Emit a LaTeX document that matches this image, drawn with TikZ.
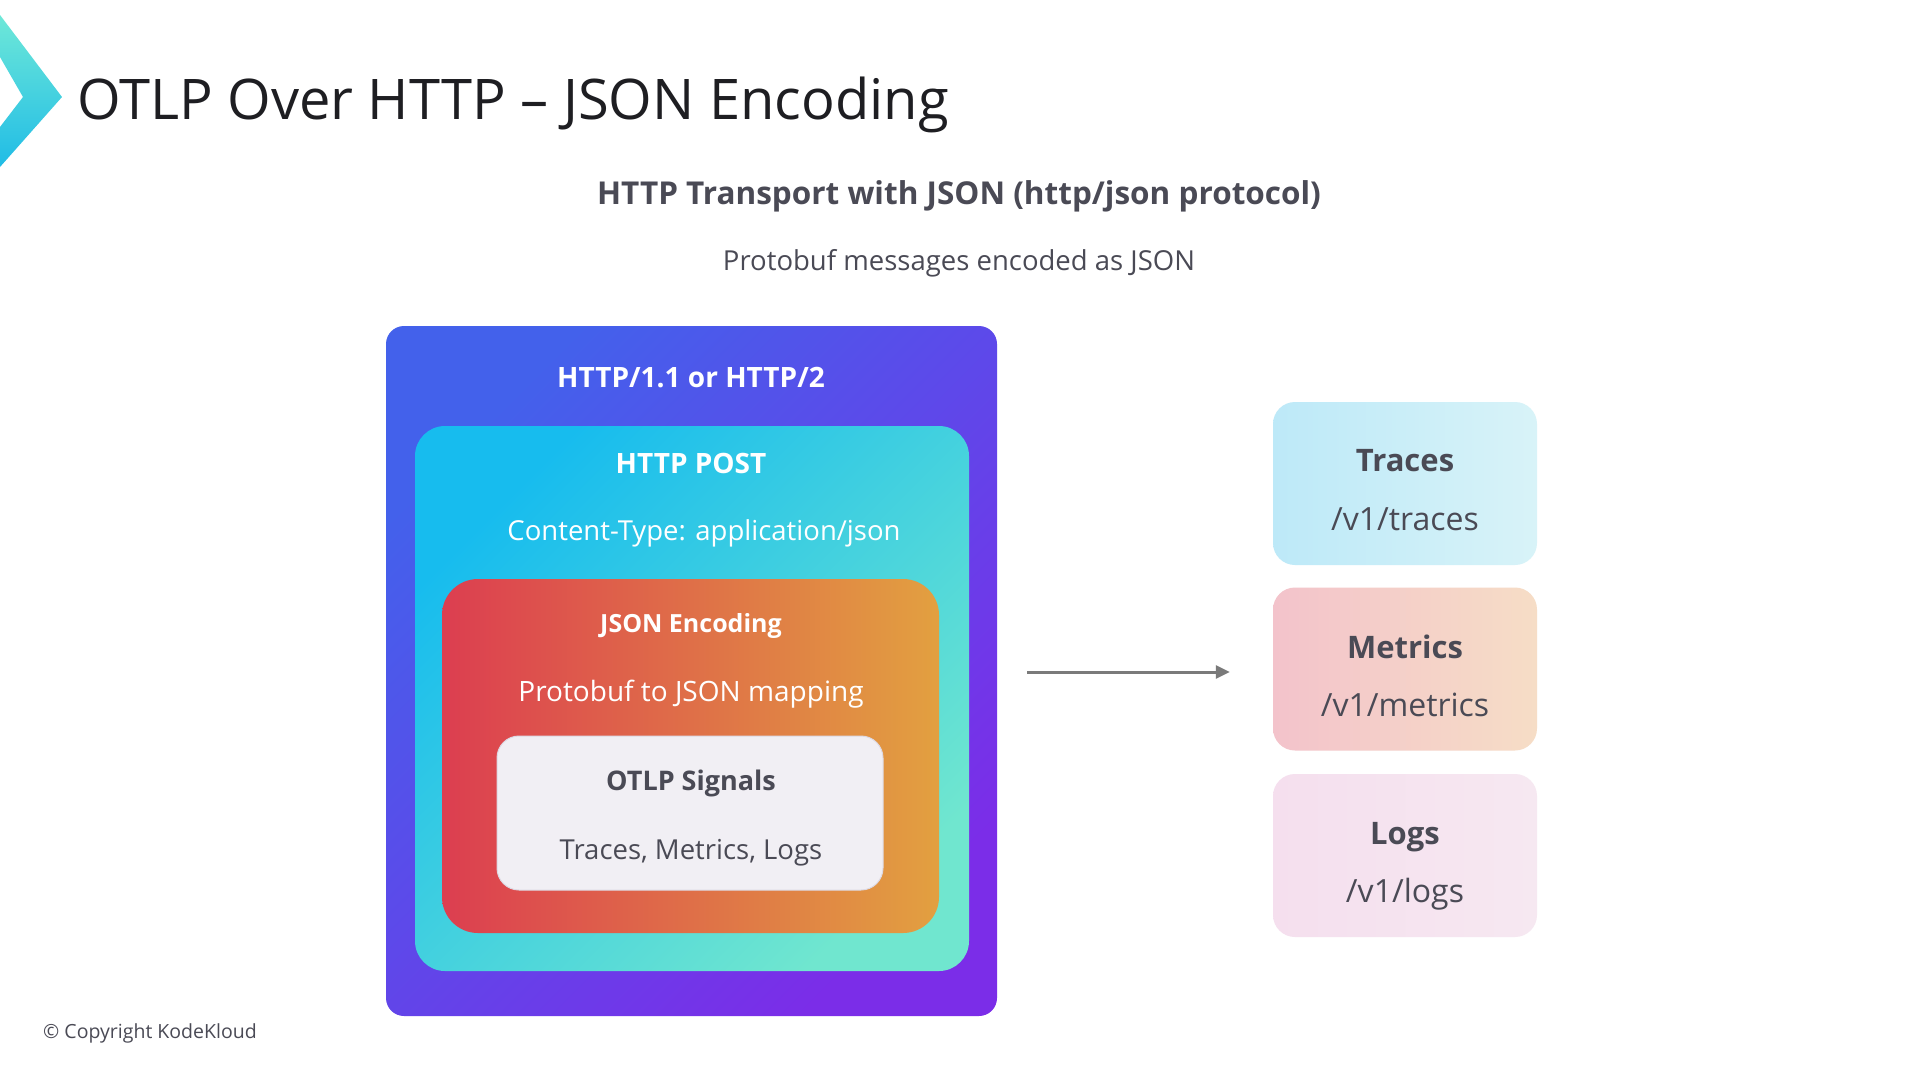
\documentclass[tikz,border=0pt]{standalone}
\usepackage{fontspec}
\setmainfont{Open Sans}
\usepackage{tikz}
\usetikzlibrary{positioning, arrows.meta, calc}
\definecolor{inkgray}{HTML}{4A4A55}
\definecolor{titleink}{HTML}{1E1E22}
\definecolor{chevtop}{HTML}{6EE8D8}
\definecolor{chevbot}{HTML}{20BCE6}
\definecolor{wireblue}{HTML}{4361EB}
\definecolor{wirepurple}{HTML}{7B2DE8}
\definecolor{postsky}{HTML}{17BCEE}
\definecolor{postmint}{HTML}{70E6CF}
\definecolor{encred}{HTML}{DC3E50}
\definecolor{encorange}{HTML}{E2A040}
\definecolor{signalbg}{HTML}{F1EFF4}
\definecolor{signalline}{HTML}{DDD9E3}
\definecolor{tracesl}{HTML}{BDE9F8}
\definecolor{tracesr}{HTML}{D8F3F8}
\definecolor{metricsl}{HTML}{F3C3CB}
\definecolor{metricsr}{HTML}{F6DDC6}
\definecolor{logsl}{HTML}{F5DFEE}
\definecolor{logsr}{HTML}{F6E8F1}
\definecolor{arrowgray}{HTML}{7A7A7A}
\newcommand{\pxfont}[1]{\fontsize{#1}{#1}\selectfont}

\begin{document}
\begin{tikzpicture}[x=1pt, y=-1pt,
  layerbox/.style={inner sep=0pt, outer sep=0pt},
  endpoint/.style={rounded corners=22pt, minimum width=264pt,
    minimum height=163pt, inner sep=0pt},
  whitehead/.style={anchor=base, inner sep=0pt, text=white, font=\pxfont{27}\bfseries},
  whitebody/.style={anchor=base, inner sep=0pt, text=white, font=\pxfont{27.5}},
  darkhead/.style={anchor=base, inner sep=0pt, text=inkgray, font=\pxfont{31}\bfseries},
  darkbody/.style={anchor=base, inner sep=0pt, text=inkgray, font=\pxfont{32}},
  flowarrow/.style={-{Triangle[length=14pt, width=13pt]}, line width=3pt, arrowgray}
]
\useasboundingbox[fill=white] (0,0) rectangle (1920,1080);

\shade[top color=chevtop, bottom color=chevbot] (0,15) -- (62,97) -- (0,167)
  -- (0,127) -- (23,97) -- (0,57) -- cycle;

\node[anchor=base west, inner sep=0pt, text=titleink, font=\pxfont{56}] (title)
  at (77,119) {OTLP Over HTTP – JSON Encoding};
\node[anchor=base, inner sep=0pt, text=inkgray, font=\pxfont{31.5}\bfseries] (subtitle)
  at (959,204) {HTTP Transport with JSON (http/json protocol)};
\node[anchor=base, inner sep=0pt, text=inkgray, font=\pxfont{27.5}] (subnote)
  at (959,270) {Protobuf messages encoded as JSON};

\node[layerbox, rounded corners=18pt, minimum width=611pt, minimum height=690pt,
  top color=wireblue, bottom color=wirepurple, shading angle=45] (wire) at (691.5,671) {};
\node[layerbox, rounded corners=30pt, minimum width=554pt, minimum height=545pt,
  top color=postsky, bottom color=postmint, shading angle=45] (post) at (692,698.5) {};
\node[layerbox, rounded corners=36pt, minimum width=497pt, minimum height=354pt,
  left color=encred, right color=encorange] (enc) at (690.5,756) {};
\node[layerbox, rounded corners=22pt, minimum width=386pt, minimum height=154pt,
  fill=signalbg, draw=signalline, line width=1pt] (signals) at (690,813) {};

\node[whitehead, font=\pxfont{28}\bfseries] (wirelabel) at (691,387) {HTTP/1.1 or HTTP/2};
\node[whitehead, font=\pxfont{28}\bfseries] (postlabel) at (691,473) {HTTP POST};
\node[whitebody] (posttype) at (704,540) {Content-Type: application/json};
\node[whitehead, font=\pxfont{25}\bfseries] (enclabel) at (691,632) {JSON Encoding};
\node[whitebody, font=\pxfont{28}] (encmap) at (691,701) {Protobuf to JSON mapping};
\node[whitehead, text=inkgray] (siglabel) at (691,790) {OTLP Signals};
\node[whitebody, text=inkgray] (siglist) at (691,859) {Traces, Metrics, Logs};

\node[endpoint, left color=tracesl, right color=tracesr] (traces) at (1405,483.5) {};
\node[endpoint, left color=metricsl, right color=metricsr] (metrics) at (1405,669) {};
\node[endpoint, left color=logsl, right color=logsr] (logs) at (1405,855.5) {};

\node[darkhead] (traceshead) at (1405,471) {Traces};
\node[darkbody] (tracespath) at (1405,530) {/v1/traces};
\node[darkhead] (metricshead) at (1405,658) {Metrics};
\node[darkbody] (metricspath) at (1405,716) {/v1/metrics};
\node[darkhead] (logshead) at (1405,844) {Logs};
\node[darkbody] (logspath) at (1405,902) {/v1/logs};

\draw[flowarrow] ([xshift=30pt, yshift=-1pt]wire.east) -- ([xshift=-43pt, yshift=-3pt]metrics.west);

\node[anchor=base west, inner sep=0pt, text=inkgray, font=\pxfont{19.5}] (copyright)
  at (43,1038) {© Copyright KodeKloud};

\end{tikzpicture}
\end{document}
